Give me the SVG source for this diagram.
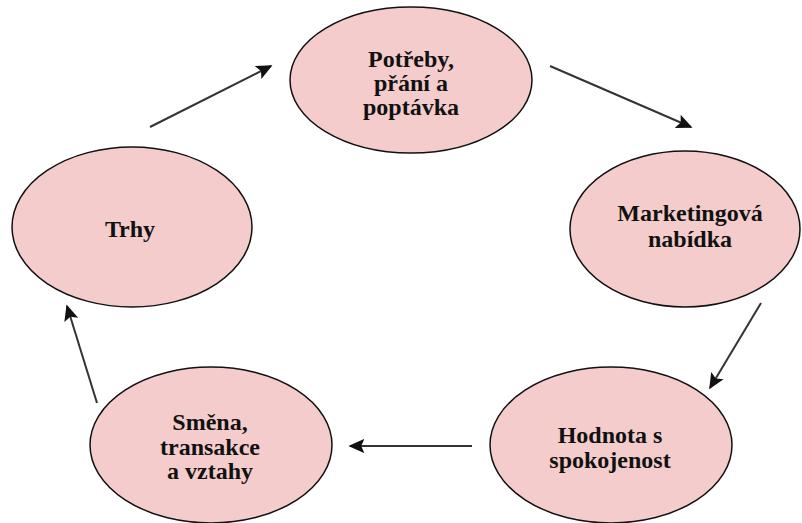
<svg xmlns="http://www.w3.org/2000/svg" width="802" height="523" viewBox="0 0 802 523">
<style>
.node ellipse{fill:#f4cccc;stroke:#111;stroke-width:1.5}
.node text{font-family:"Liberation Serif","Times New Roman",serif;font-weight:bold;font-size:24px;fill:#111;text-anchor:middle}
.conn line{stroke:#333;stroke-width:2;marker-end:url(#ah)}
</style>
<defs>
<marker id="ah" viewBox="0 0 10 10" refX="9" refY="5" markerWidth="8" markerHeight="8" markerUnits="strokeWidth" orient="auto">
<path d="M0,0.5 L10,5 L0,9.5 L2,5 z" fill="#111"/>
</marker>
</defs>
<rect width="802" height="523" fill="#fff"/>
<g class="conn" id="connectors">
<line x1="150" y1="127" x2="271" y2="66"/>
<line x1="550" y1="66" x2="691" y2="127"/>
<line x1="761" y1="303" x2="710" y2="388"/>
<line x1="472" y1="446" x2="350" y2="446"/>
<line x1="97" y1="403" x2="67" y2="306"/>
</g>
<g class="node" id="n-potreby">
<ellipse cx="411" cy="80" rx="121" ry="73"/>
<text x="411" y="67">Potřeby,</text>
<text x="411" y="91">přání a</text>
<text x="411" y="115">poptávka</text>
</g>
<g class="node" id="n-marketing">
<ellipse cx="685" cy="229" rx="115" ry="78"/>
<text x="690" y="221">Marketingová</text>
<text x="690" y="247">nabídka</text>
</g>
<g class="node" id="n-hodnota">
<ellipse cx="611" cy="445" rx="121" ry="78"/>
<text x="610" y="443">Hodnota s</text>
<text x="610" y="468">spokojenost</text>
</g>
<g class="node" id="n-smena">
<ellipse cx="211" cy="445" rx="121" ry="78"/>
<text x="210" y="430">Směna,</text>
<text x="210" y="455">transakce</text>
<text x="210" y="479">a vztahy</text>
</g>
<g class="node" id="n-trhy">
<ellipse cx="132" cy="227" rx="120" ry="80"/>
<text x="130" y="237">Trhy</text>
</g>
</svg>
